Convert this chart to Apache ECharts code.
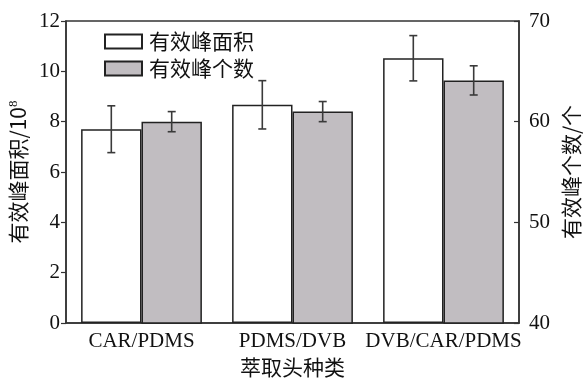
<!DOCTYPE html>
<html><head><meta charset="utf-8">
<script src="https://cdn.jsdelivr.net/npm/echarts@6/dist/echarts.min.js"></script>
<style>html,body{margin:0;padding:0;background:#fff}#c{width:586px;height:378px}</style>
</head><body><div id="c"></div>
<script>
const categories = ['CAR/PDMS', 'PDMS/DVB', 'DVB/CAR/PDMS'];
const areaValues = [7.7, 8.67, 10.52];
const areaErrors = [0.93, 0.96, 0.9];
const countValues = [60.0, 61.0, 64.1];
const countErrors = [1.0, 1.0, 1.45];
const leftTicks = [0, 2, 4, 6, 8, 10, 12];
const rightTicks = [40, 50, 60, 70];

const serif = '"Liberation Serif", "Times New Roman", "Noto Sans CJK SC", serif';
const cjk = '"Noto Sans CJK SC", "Liberation Serif", serif';
const lineColor = '#333';

function errRender(values, errors, side) {
  return function (params, api) {
    const i = params.dataIndex;
    const catW = api.size([1, 0])[0];
    const bw = catW * 0.8 / 2;
    const cx = api.coord([i, 0])[0] + side * bw / 2;
    const top = api.coord([i, values[i] + errors[i]])[1];
    const bot = api.coord([i, values[i] - errors[i]])[1];
    const cap = 4;
    const st = { stroke: '#3a3a3a', lineWidth: 1.6 };
    return { type: 'group', children: [
      { type: 'line', shape: { x1: cx, y1: top, x2: cx, y2: bot }, style: st },
      { type: 'line', shape: { x1: cx - cap, y1: top, x2: cx + cap, y2: top }, style: st },
      { type: 'line', shape: { x1: cx - cap, y1: bot, x2: cx + cap, y2: bot }, style: st }
    ]};
  };
}

const chart = echarts.init(document.getElementById('c'));
chart.setOption({
  animation: false,
  backgroundColor: '#fff',
  grid: { left: 66, right: 67, top: 21, bottom: 55, show: true, borderColor: lineColor, borderWidth: 1.5,
    backgroundColor: 'transparent', containLabel: false, outerBoundsMode: 'none' },
  legend: {
    left: 99, top: 26, orient: 'vertical', itemWidth: 37, itemHeight: 14, itemGap: 6,
    icon: 'rect',
    textStyle: { fontFamily: cjk, fontSize: 21, lineHeight: 21, color: '#111', padding: [0, 0, 0, 2] },
    data: ['有效峰面积', '有效峰个数']
  },
  xAxis: {
    type: 'category', data: categories,
    axisLine: { lineStyle: { color: lineColor, width: 1.5 } },
    axisTick: { show: false },
    axisLabel: { fontFamily: serif, fontSize: 21, color: '#111', margin: 8, interval: 0 },
    name: '萃取头种类', nameLocation: 'middle', nameGap: 31,
    nameTextStyle: { fontFamily: cjk, fontSize: 21, color: '#111' }
  },
  yAxis: [
    {
      type: 'value', min: 0, max: 12, interval: 2,
      axisLine: { show: true, lineStyle: { color: lineColor, width: 1.5 } },
      axisTick: { show: true, inside: false, length: 5, lineStyle: { color: lineColor, width: 1.2 } },
      splitLine: { show: false },
      axisLabel: { fontFamily: serif, fontSize: 21, color: '#111', margin: 6 },
      name: '有效峰面积/10{sup|8}', nameLocation: 'middle', nameGap: 36, nameRotate: 90,
      nameTextStyle: { fontFamily: cjk, fontSize: 21, color: '#111',
        rich: { sup: { fontFamily: serif, fontSize: 13, verticalAlign: 'top', padding: [0, 0, 8, 0], color: '#111' } } }
    },
    {
      type: 'value', min: 40, max: 70, interval: 10, position: 'right',
      axisLine: { show: true, lineStyle: { color: lineColor, width: 1.5 } },
      axisTick: { show: true, inside: true, length: 5, lineStyle: { color: lineColor, width: 1.2 } },
      splitLine: { show: false },
      axisLabel: { fontFamily: serif, fontSize: 21, color: '#111', margin: 10 },
      name: '有效峰个数/个', nameLocation: 'middle', nameGap: 41, nameRotate: 90,
      nameTextStyle: { fontFamily: cjk, fontSize: 21, color: '#111' }
    }
  ],
  series: [
    { name: '有效峰面积', type: 'bar', yAxisIndex: 0, data: areaValues, barGap: '0%', barCategoryGap: '20%',
      itemStyle: { color: '#ffffff', borderColor: '#222', borderWidth: 1.5 } },
    { name: '有效峰个数', type: 'bar', yAxisIndex: 1, data: countValues, barGap: '0%', barCategoryGap: '20%',
      itemStyle: { color: '#c1bdc1', borderColor: '#222', borderWidth: 1.5 } },
    { type: 'custom', yAxisIndex: 0, data: areaValues, renderItem: errRender(areaValues, areaErrors, -1), z: 10 },
    { type: 'custom', yAxisIndex: 1, data: countValues, renderItem: errRender(countValues, countErrors, 1), z: 10 }
  ]
});
</script></body></html>
